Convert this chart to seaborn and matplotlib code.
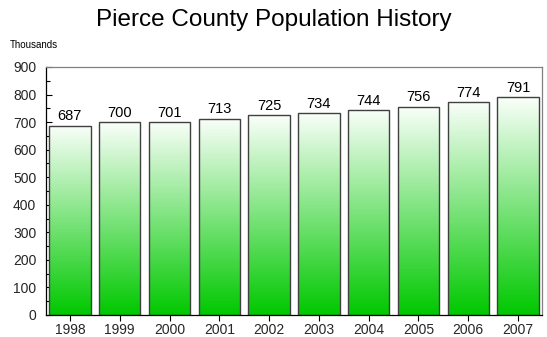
import matplotlib
matplotlib.use("Agg")
import matplotlib.pyplot as plt
import seaborn as sns
import numpy as np
import pandas as pd
from matplotlib.colors import LinearSegmentedColormap
from matplotlib.ticker import MultipleLocator

years = ["1998", "1999", "2000", "2001", "2002", "2003", "2004", "2005", "2006", "2007"]
population = [687, 700, 701, 713, 725, 734, 744, 756, 774, 791]
title = "Pierce County Population History"
unit_label = "Thousands"

sns.set_theme(style="white")
plt.rcParams["font.family"] = ["Liberation Sans", "DejaVu Sans"]

df = pd.DataFrame({"year": years, "pop": population})

fig = plt.figure(figsize=(5.47, 3.37), dpi=100)
ax = fig.add_axes([46 / 547, 1 - 315 / 337, (542 - 46) / 547, (315 - 67) / 337])

sns.barplot(data=df, x="year", y="pop", ax=ax, color="#00c800", width=0.83,
            edgecolor="#404040", linewidth=1.0, saturation=1)

# gradient fill per bar: white at top to green at bottom
cmap = LinearSegmentedColormap.from_list("g", ["#00c800", "#fafffa"])
grad = np.linspace(0, 1, 256).reshape(-1, 1)
for patch in ax.patches:
    x0 = patch.get_x()
    w = patch.get_width()
    h = patch.get_height()
    im = ax.imshow(grad, aspect="auto", cmap=cmap, origin="lower",
                   extent=[x0, x0 + w, 0, h], zorder=patch.get_zorder() - 0.1)
    im.set_clip_path(patch)
    patch.set_facecolor("none")
ax.set_xlim(-0.48, 9.48)
ax.set_ylim(0, 900)

for p, v in zip(ax.patches, population):
    ax.text(p.get_x() + p.get_width() / 2, v + 8, str(v), ha="center", va="bottom",
            fontsize=10.5, color="#000000")

ax.set_xlabel("")
ax.set_ylabel("")
ax.yaxis.set_major_locator(MultipleLocator(100))
ax.yaxis.set_minor_locator(MultipleLocator(50))
ax.tick_params(axis="y", which="major", direction="in", length=4, width=0.8, color="#000000",
               labelsize=10, left=True, pad=7)
ax.tick_params(axis="y", which="minor", direction="in", length=3, width=0.8, color="#000000", left=True)
ax.tick_params(axis="x", which="major", direction="out", length=4, width=0.8, color="#000000",
               labelsize=10, bottom=True, pad=2)
for s in ["left", "bottom"]:
    ax.spines[s].set_color("#000000")
    ax.spines[s].set_linewidth(0.9)
for s in ["top", "right"]:
    ax.spines[s].set_color("#808080")
    ax.spines[s].set_linewidth(0.9)
    ax.spines[s].set_visible(True)

fig.text(0.5, 1 - 20 / 337, title, ha="center", va="center", fontsize=17.5, color="#000000")
fig.text(10 / 547, 1 - 45 / 337, unit_label, ha="left", va="center", fontsize=7, color="#000000")

fig.savefig("out.png", dpi=100)
